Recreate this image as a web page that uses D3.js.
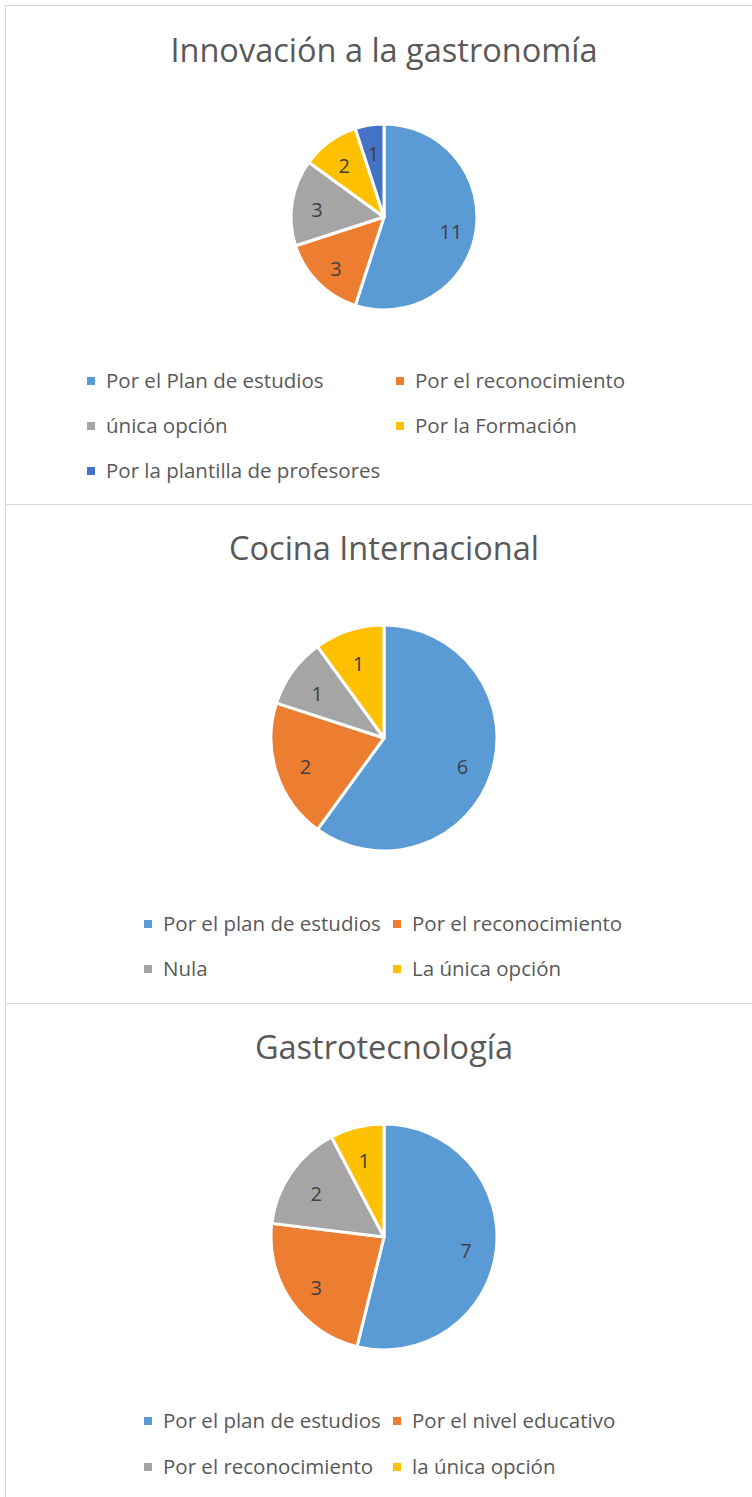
<!DOCTYPE html>
<html>
<head>
<meta charset="utf-8">
<style>
body { margin: 0; background: #fff; }
svg { display: block; font-family: "Open Sans", sans-serif; }
.title { fill: #595959; }
.lbl { fill: #404040; }
.leg { fill: #595959; }
</style>
<script src="https://cdn.jsdelivr.net/npm/d3@7"></script>
</head>
<body>
<svg width="752" height="1497"></svg>
<script>

// colours of the slices, in Excel order
var colors = ["#5b9bd5", "#ed7d31", "#a5a5a5", "#ffc000", "#4472c4"];

// chart 1
var title1 = "Innovación a la gastronomía";
var cats1 = ["Por el Plan de estudios", "Por el reconocimiento", "única opción", "Por la Formación", "Por la plantilla de profesores"];
var vals1 = [11, 3, 3, 2, 1];

// chart 2
var title2 = "Cocina Internacional";
var cats2 = ["Por el plan de estudios", "Por el reconocimiento", "Nula", "La única opción"];
var vals2 = [6, 2, 1, 1];

// chart 3
var title3 = "Gastrotecnología";
var cats3 = ["Por el plan de estudios", "Por el nivel educativo", "Por el reconocimiento", "la única opción"];
var vals3 = [7, 3, 2, 1];

var svg = d3.select("svg");

var panels = [
  {title: title1, cats: cats1, vals: vals1, y0: 5, y1: 504, cy: 217, r: 93, titleY: 62,
    legX: [91, 400], legY: [381, 426, 471]},
  {title: title2, cats: cats2, vals: vals2, y0: 504, y1: 1003, cy: 738, r: 113, titleY: 560,
    legX: [148, 397], legY: [924, 969]},
  {title: title3, cats: cats3, vals: vals3, y0: 1003, y1: 1510, cy: 1237, r: 113, titleY: 1059,
    legX: [148, 397], legY: [1421, 1467]}
];

var cx = 384;

var pie = d3.pie().sort(null).value(function(d) { return d; });

panels.forEach(function(p) {
  var g = svg.append("g");

  // frame
  g.append("rect")
    .attr("x", 5.5).attr("y", p.y0 + 0.5)
    .attr("width", 760).attr("height", p.y1 - p.y0)
    .attr("fill", "#fff")
    .attr("stroke", "#d9d9d9");

  g.append("text")
    .attr("class", "title")
    .attr("x", cx).attr("y", p.titleY)
    .attr("text-anchor", "middle")
    .style("font-size", "32.5px")
    .text(p.title);

  var arc = d3.arc().innerRadius(0).outerRadius(p.r);
  var lblArc = d3.arc().innerRadius(p.r * 0.73).outerRadius(p.r * 0.73);

  var pg = g.append("g").attr("transform", "translate(" + cx + "," + p.cy + ")");
  var arcs = pie(p.vals);

  pg.selectAll("path")
    .data(arcs)
    .enter().append("path")
      .attr("d", arc)
      .attr("fill", function(d, i) { return colors[i]; })
      .attr("stroke", "#fff")
      .attr("stroke-width", 3)
      .attr("stroke-linejoin", "round");

  pg.selectAll("text")
    .data(arcs)
    .enter().append("text")
      .attr("class", "lbl")
      .attr("transform", function(d) { return "translate(" + lblArc.centroid(d) + ")"; })
      .attr("text-anchor", "middle")
      .attr("dy", "0.55em")
      .style("font-size", "20px")
      .text(function(d) { return d.value; });

  // legend, two columns
  var leg = g.selectAll(".legitem")
    .data(p.cats)
    .enter().append("g")
      .attr("transform", function(d, i) {
        return "translate(" + p.legX[i % 2] + "," + p.legY[Math.floor(i / 2)] + ")";
      });

  leg.append("rect")
    .attr("x", -4).attr("y", -4)
    .attr("width", 8).attr("height", 8)
    .attr("fill", function(d, i) { return colors[i]; });

  leg.append("text")
    .attr("class", "leg")
    .attr("x", 15).attr("dy", "0.35em")
    .style("font-size", "20.5px")
    .text(function(d) { return d; });
});

</script>
</head>
</html>
